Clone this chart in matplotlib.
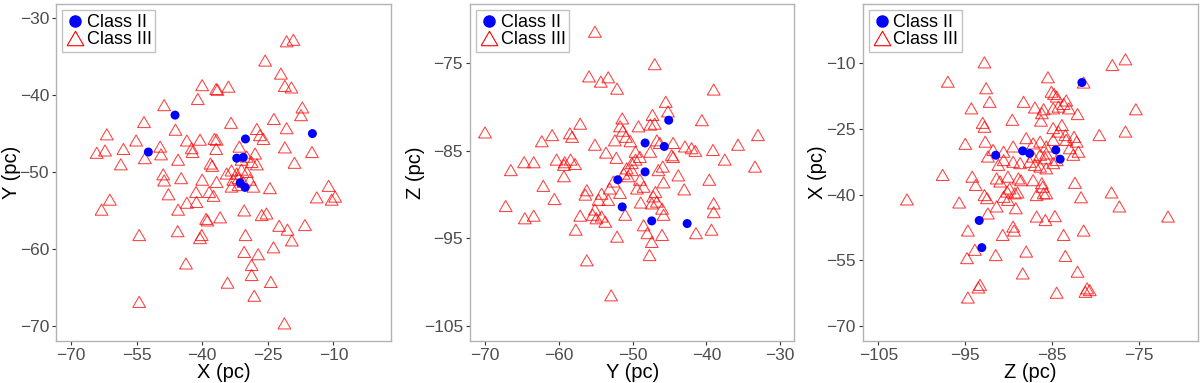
import numpy as np
import matplotlib.pyplot as plt
from matplotlib.lines import Line2D

plt.rcParams['font.family'] = ['Liberation Sans', 'DejaVu Sans']

# ---- panel 1 : X vs Y ----
c2_x1 = [-46.2, -52.3, -30.1, -14.8, -32.1, -30.6, -31.3, -30.2]
c2_y1 = [-42.6, -47.4, -45.7, -45.0, -48.2, -48.1, -51.4, -52.0]
c3_x1 = [-20.7, -19.15, -25.6, -22.0, -21.1, -19.6, -40.0, -36.8, -36.5, -34.0,
         -41.0, -48.7, -17.1, -17.4, -23.6, -53.3, -33.4, -46.1, -20.7, -61.8,
         -27.5, -26.8, -26.0, -55.1, -43.5, -40.5, -37.2, -36.7, -42.4, -42.2,
         -49.6, -36.8, -31.5, -58.0, -62.2, -64.1, -53.1, -49.4, -21.1, -14.9,
         -45.5, -27.9, -18.9, -58.6, -38.1, -37.7, -31.0, -29.8, -28.7, -27.5,
         -34.4, -33.3, -32.1, -31.0, -29.8, -32.9, -31.7, -30.6, -29.1, -33.3,
         -31.7, -28.3, -48.9, -48.7, -44.8, -40.0, -36.7, -47.7, -41.4, -43.5,
         -41.3, -38.4, -37.4, -24.5, -11.1, -13.8, -10.4, -9.6, -61.1, -63.0,
         -45.5, -30.4, -39.1, -38.8, -35.9, -26.4, -25.3, -22.4, -20.5, -16.5,
         -19.5, -54.4, -45.6, -40.1, -40.5, -30.1, -23.7, -30.4, -27.2, -43.7,
         -28.7, -28.7, -34.2, -24.3, -28.1, -54.4, -21.2]
c3_y1 = [-33.0, -32.8, -35.5, -37.2, -38.8, -39.0, -38.7, -39.2, -39.3, -38.9,
         -40.5, -41.3, -41.6, -42.6, -43.1, -43.5, -43.6, -44.5, -44.3, -45.1,
         -44.4, -45.2, -45.7, -45.9, -45.9, -45.8, -45.7, -45.8, -46.9, -47.4,
         -46.7, -47.0, -46.7, -47.0, -47.2, -47.5, -48.2, -47.7, -46.8, -47.4,
         -48.4, -47.6, -48.8, -49.0, -48.9, -49.2, -48.4, -48.0, -48.7, -49.0,
         -50.2, -49.8, -50.2, -49.7, -50.0, -51.0, -50.8, -51.3, -51.0, -51.9,
         -51.7, -51.9, -50.3, -51.1, -50.8, -51.0, -51.3, -52.9, -52.6, -54.0,
         -53.9, -52.6, -53.1, -52.1, -51.8, -53.3, -53.6, -53.2, -53.6, -54.9,
         -54.9, -55.0, -56.1, -56.3, -55.9, -55.6, -55.4, -57.0, -57.5, -56.9,
         -58.9, -58.2, -57.7, -58.2, -58.6, -58.2, -59.8, -60.4, -60.7, -61.9,
         -62.1, -63.4, -64.4, -64.3, -66.1, -66.9, -69.7]

# ---- panel 2 : Y vs Z ----
c2_y2 = [-45.1, -48.3, -45.7, -48.3, -52.0, -51.4, -47.4, -42.6]
c2_z2 = [-81.5, -84.1, -84.5, -87.4, -88.3, -91.4, -93.0, -93.3]
c3_y2 = [-55.1, -47.0, -55.9, -54.3, -53.3, -52.1, -39.0, -45.5, -45.2, -40.6,
         -47.3, -51.4, -51.7, -51.3, -57.1, -70.0, -49.2, -47.6, -47.0, -33.0,
         -58.5, -58.2, -60.9, -62.3, -55.1, -52.4, -50.9, -50.3, -46.7, -46.3,
         -44.5, -42.9, -41.5, -42.0, -35.7, -39.1, -53.6, -52.2, -49.6, -49.0,
         -49.6, -50.1, -47.6, -44.7, -44.5, -37.5, -60.3, -59.2, -58.4, -57.8,
         -59.3, -64.7, -63.4, -66.5, -33.4, -50.8, -50.1, -51.2, -50.6, -45.9,
         -46.5, -43.8, -59.3, -62.1, -39.6, -45.8, -49.0, -48.5, -49.4, -53.1,
         -52.6, -56.2, -56.4, -54.2, -53.3, -54.6, -51.7, -43.0, -46.9, -47.2,
         -46.7, -47.4, -60.6, -48.9, -39.0, -39.0, -67.2, -55.1, -55.4, -54.2,
         -53.7, -54.9, -51.0, -46.0, -45.8, -57.1, -64.6, -63.4, -48.5, -48.0,
         -57.7, -39.3, -41.4, -46.0, -52.1, -47.4, -47.7, -56.2, -52.9]
c3_z2 = [-71.4, -75.1, -76.5, -77.1, -76.6, -77.9, -78.0, -79.4, -80.5, -81.5,
         -80.9, -81.3, -82.2, -82.7, -81.9, -82.9, -82.2, -82.0, -81.9, -83.2,
         -83.0, -83.4, -83.2, -83.9, -84.3, -83.8, -83.4, -83.9, -83.8, -84.1,
         -84.1, -84.5, -85.0, -84.7, -84.3, -84.9, -85.2, -85.8, -85.1, -85.7,
         -86.0, -86.4, -85.1, -85.5, -85.7, -86.0, -86.0, -86.3, -86.0, -86.5,
         -86.6, -86.3, -86.3, -87.2, -86.8, -87.0, -87.2, -87.6, -87.9, -86.8,
         -87.2, -87.8, -87.9, -89.0, -88.3, -88.6, -88.3, -89.1, -89.3, -89.3,
         -88.5, -89.5, -90.0, -89.9, -90.6, -90.6, -89.8, -89.4, -89.7, -90.2,
         -90.8, -91.0, -90.5, -90.9, -91.0, -92.0, -91.3, -91.7, -92.3, -92.5,
         -93.1, -92.7, -92.3, -91.6, -92.3, -92.4, -92.7, -92.4, -93.5, -94.4,
         -94.0, -94.0, -94.4, -94.6, -94.8, -95.4, -96.9, -97.5, -101.5]

# ---- panel 3 : Z vs X ----
c2_z3 = [-81.6, -91.5, -88.4, -87.6, -84.6, -84.1, -93.4, -93.1]
c2_x3 = [-14.4, -31.0, -30.0, -30.6, -29.8, -31.9, -45.9, -52.1]
c3_z3 = [-76.6, -78.1, -92.8, -97.0, -85.5, -92.6, -85.1, -84.8, -84.5, -83.4,
         -83.7, -81.4, -92.2, -88.3, -94.3, -87.0, -86.0, -84.9, -84.3, -83.1,
         -75.4, -82.1, -86.2, -86.3, -89.6, -93.0, -92.8, -83.9, -84.3, -84.9,
         -76.6, -79.6, -82.5, -82.2, -83.5, -83.4, -92.7, -95.0, -91.8, -90.6,
         -89.5, -88.0, -87.2, -86.4, -85.7, -84.9, -85.7, -86.4, -85.8, -83.0,
         -82.0, -82.6, -87.2, -87.6, -87.0, -84.9, -84.5, -89.5, -88.7, -86.4,
         -85.7, -91.2, -92.4, -90.6, -97.6, -94.2, -93.8, -91.4, -91.0, -90.1,
         -88.9, -88.6, -87.2, -86.2, -86.1, -82.4, -89.9, -90.2, -89.3, -90.6,
         -90.1, -92.8, -92.5, -86.8, -86.0, -85.7, -89.0, -81.7, -78.2, -101.7,
         -95.7, -77.3, -91.4, -92.4, -89.2, -86.8, -85.8, -84.7, -71.7, -94.7,
         -89.5, -89.4, -90.7, -81.4, -83.7, -93.9, -91.5, -88.0, -83.5, -94.8,
         -88.4, -82.1, -93.3, -93.5, -84.5, -81.0, -80.7, -81.2, -94.7]
c3_x3 = [-9.1, -10.4, -9.8, -14.2, -13.2, -15.7, -16.5, -17.0, -17.6, -18.5,
         -19.3, -14.4, -18.8, -18.8, -20.3, -20.1, -20.5, -20.3, -19.9, -20.3,
         -20.5, -21.6, -21.4, -23.1, -22.9, -23.6, -24.5, -24.1, -25.6, -24.8,
         -25.6, -26.4, -26.8, -27.9, -26.4, -27.5, -27.9, -28.4, -29.8, -30.2,
         -29.0, -27.1, -28.3, -27.9, -29.0, -27.5, -30.6, -30.9, -31.7, -29.4,
         -30.2, -30.9, -31.3, -32.5, -33.2, -32.8, -32.1, -32.5, -32.8, -33.6,
         -34.0, -33.2, -31.3, -32.1, -35.5, -35.9, -37.8, -36.3, -37.0, -35.9,
         -36.3, -36.7, -36.7, -37.4, -38.2, -37.3, -38.6, -39.3, -39.7, -40.5,
         -41.2, -40.1, -40.8, -40.1, -39.7, -39.7, -39.5, -40.6, -39.5, -41.1,
         -41.8, -42.7, -42.7, -44.3, -43.1, -45.0, -45.8, -44.9, -45.0, -48.2,
         -47.3, -48.2, -49.2, -48.2, -49.2, -52.6, -53.8, -53.0, -54.0, -54.5,
         -58.0, -57.6, -60.6, -61.2, -62.4, -61.4, -61.8, -62.2, -63.5]

# equilateral open triangle like R's pch 2
tri = [(-1, -0.866), (1, -0.866), (0, 0.866), (-1, -0.866)]

panels = [
    (c2_x1, c2_y1, c3_x1, c3_y1, 'X (pc)', 'Y (pc)', (-73.4, 3.1), (-71.95, -28.14),
     [-70, -55, -40, -25, -10], [-70, -60, -50, -40, -30], [0.0467, 0.1104, 0.2789, 0.8792]),
    (c2_y2, c2_z2, c3_y2, c3_z2, 'Y (pc)', 'Z (pc)', (-72.03, -28.06), (-106.68, -68.23),
     [-70, -60, -50, -40, -30], [-105, -95, -85, -75], [0.3917, 0.1104, 0.2703, 0.8792]),
    (c2_z3, c2_x3, c3_z3, c3_x3, 'Z (pc)', 'X (pc)', (-106.79, -68.29), (-73.36, 3.54),
     [-105, -95, -85, -75], [-70, -55, -40, -25, -10], [0.7189, 0.1104, 0.2792, 0.8792]),
]

fig = plt.figure(figsize=(12, 3.83), dpi=100)

for (bx, by, tx, ty, xl, yl, xlim, ylim, xt, yt, pos) in panels:
    ax = fig.add_axes(pos)
    ax.scatter(tx, ty, marker=tri, s=85, facecolors='none', edgecolors='red',
               linewidths=0.75, alpha=0.75, zorder=2)
    ax.scatter(bx, by, marker='o', s=42, color='blue', edgecolors='none', zorder=3)
    ax.set_xlim(*xlim)
    ax.set_ylim(*ylim)
    ax.set_xticks(xt)
    ax.set_yticks(yt)
    ax.tick_params(labelsize=12.5, colors='#4d4d4d', length=3, width=0.8,
                   color='#333333', pad=2)
    ax.set_xlabel(xl, fontsize=14.5, labelpad=0)
    ax.set_ylabel(yl, fontsize=14.5, labelpad=-1)
    for s in ax.spines.values():
        s.set_color('#b3b3b3')
        s.set_linewidth(1.0)

    handles = [
        Line2D([], [], marker='o', color='blue', linestyle='none', markersize=8),
        Line2D([], [], marker=tri, color='red', markerfacecolor='none',
               linestyle='none', markersize=12, markeredgewidth=0.8),
    ]
    leg = ax.legend(handles, ['Class II', 'Class III'], loc='upper left',
                    fontsize=13, frameon=True, fancybox=False, borderpad=0.2,
                    handletextpad=0.15, handlelength=1.0, labelspacing=0.0,
                    borderaxespad=0.35, handleheight=0.6)
    leg.get_frame().set_edgecolor('#b3b3b3')
    leg.get_frame().set_linewidth(1.0)

fig.savefig('out.png', dpi=100)
